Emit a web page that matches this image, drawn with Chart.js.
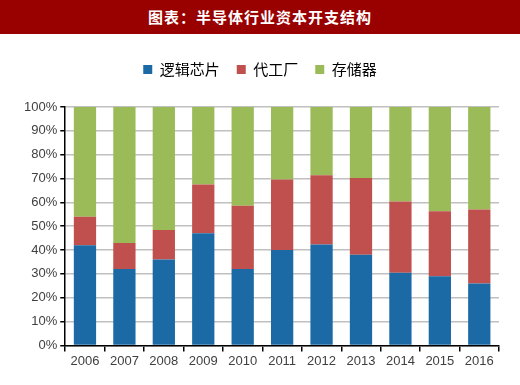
<!DOCTYPE html>
<html>
<head>
<meta charset="utf-8">
<script src="https://cdn.jsdelivr.net/npm/chart.js@4/dist/chart.umd.min.js"></script>
<style>
    html, body { margin: 0; padding: 0; background: #fff; }
    #titleBar {
        width: 520px; height: 34px; background: #990000; color: #fff;
        font-family: "Noto Sans CJK SC", sans-serif; font-weight: bold; font-size: 15px;
        line-height: 34px; text-align: center; letter-spacing: 1px;
    }
    #wrap { position: relative; width: 520px; height: 351px; }
</style>
</head>
<body>
<div id="titleBar">图表：半导体行业资本开支结构</div>
<div id="wrap"><canvas id="capexChart"></canvas></div>
<script>
// 年份
const years = ['2006', '2007', '2008', '2009', '2010', '2011', '2012', '2013', '2014', '2015', '2016'];
// 各类资本开支占比 (%)
const logicShare = [42, 32, 36, 47, 32, 40, 42.3, 38, 30.5, 29, 26];
const foundryShare = [12, 11, 12.4, 20.5, 26.6, 29.6, 29.1, 32.2, 29.9, 27.3, 31];
const memoryShare = [46, 57, 51.6, 32.5, 41.4, 30.4, 28.6, 29.8, 39.6, 43.7, 43];
const seriesNames = ['逻辑芯片', '代工厂', '存储器'];

document.addEventListener('DOMContentLoaded', function() {
    const ctx = document.getElementById('capexChart').getContext('2d');
    const tickFont = { family: '"Liberation Sans", Arial, sans-serif', size: 13 };

    // 图例下方留出更大间距
    const legendGap = {
        id: 'legendGap',
        beforeInit(chart) {
            const origFit = chart.legend.fit;
            chart.legend.fit = function() {
                origFit.bind(chart.legend)();
                this.height += 20;
            };
        }
    };

    new Chart(ctx, {
        type: 'bar',
        data: {
            labels: years,
            datasets: [
                { label: seriesNames[0], data: logicShare, backgroundColor: '#1b6aa5' },
                { label: seriesNames[1], data: foundryShare, backgroundColor: '#c0504d' },
                { label: seriesNames[2], data: memoryShare, backgroundColor: '#9bbb59' }
            ]
        },
        options: {
            responsive: true,
            maintainAspectRatio: false,
            animation: false,
            datasets: {
                bar: { categoryPercentage: 1, barPercentage: 0.565 }
            },
            layout: { padding: { top: 11, right: 21, left: 21, bottom: 14 } },
            scales: {
                x: {
                    stacked: true,
                    grid: {
                        offset: true,
                        drawOnChartArea: false,
                        drawTicks: true,
                        tickLength: 6,
                        tickColor: '#000',
                        lineWidth: 1.5
                    },
                    border: { color: '#000', width: 1.5 },
                    ticks: { color: '#404040', font: tickFont, padding: 2 }
                },
                y: {
                    stacked: true,
                    min: 0,
                    max: 100,
                    ticks: {
                        stepSize: 10,
                        color: '#404040',
                        font: tickFont,
                        padding: 3,
                        callback: function(v) { return v + '%'; }
                    },
                    grid: { color: '#c0c0c0', lineWidth: 1.5, tickColor: '#000', tickLength: 5 },
                    border: { color: '#000', width: 1.5 }
                }
            },
            plugins: {
                legend: {
                    position: 'top',
                    labels: {
                        boxWidth: 9,
                        boxHeight: 9,
                        padding: 17,
                        color: '#000',
                        font: { family: '"Noto Sans CJK SC", sans-serif', size: 15 }
                    }
                },
                tooltip: { enabled: false }
            }
        },
        plugins: [legendGap]
    });
});
</script>
</body>
</html>
